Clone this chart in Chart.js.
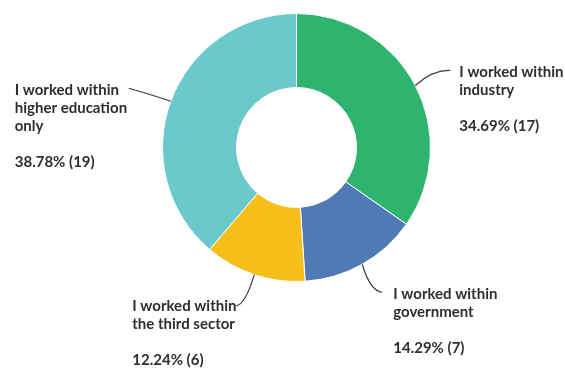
<!DOCTYPE html>
<html>
<head>
<meta charset="utf-8">
<script src="https://cdn.jsdelivr.net/npm/chart.js@4/dist/chart.umd.min.js"></script>
<style>
  html, body { margin: 0; padding: 0; background: #fff; }
  #wrap { width: 565px; height: 369px; }
</style>
</head>
<body>
<div id="wrap"><canvas id="sectorChart" width="565" height="369"></canvas></div>
<script>
// Survey answers, clockwise from the top
const categories = [
    ['I worked within', 'industry'],
    ['I worked within', 'government'],
    ['I worked within', 'the third sector'],
    ['I worked within', 'higher education', 'only']
];
const counts = [17, 7, 6, 19];
const percentLabels = ['34.69%', '14.29%', '12.24%', '38.78%'];
const sliceColors = ['#2eb46e', '#4f7ab5', '#f5be1b', '#6bc8cb'];

// Where each label sits, relative to the point on the rim at the slice middle.
// end = leader line end, ctrl = curve control point, text = first line anchor
const labelLayout = [
    { end: [35, -15], ctrl: [18, -16], text: [44, -13] },
    { end: [20, 28], ctrl: [8, 27], text: [31, 30] },
    { end: [-18, 31], ctrl: [-9, 30], text: [-122, 31] },
    { end: [-42, -13], ctrl: [-24, -8], text: [-156, -11] }
];

const calloutPlugin = {
    id: 'callouts',
    afterDatasetsDraw(chart) {
        const ctx = chart.ctx;
        const arcs = chart.getDatasetMeta(0).data;
        ctx.save();
        arcs.forEach((arc, i) => {
            const p = arc.getProps(['x', 'y', 'startAngle', 'endAngle', 'outerRadius'], true);
            const mid = (p.startAngle + p.endAngle) / 2;
            const sx = p.x + Math.cos(mid) * p.outerRadius;
            const sy = p.y + Math.sin(mid) * p.outerRadius;
            const lay = labelLayout[i];

            ctx.strokeStyle = '#3b3b3b';
            ctx.lineWidth = 1.2;
            ctx.beginPath();
            ctx.moveTo(sx, sy);
            ctx.quadraticCurveTo(sx + lay.ctrl[0], sy + lay.ctrl[1], sx + lay.end[0], sy + lay.end[1]);
            ctx.stroke();

            ctx.fillStyle = '#2e2e2e';
            ctx.font = 'bold 15px Lato, "Open Sans", sans-serif';
            ctx.textAlign = 'left';
            ctx.textBaseline = 'middle';
            const tx = sx + lay.text[0];
            let ty = sy + lay.text[1];
            categories[i].forEach(line => {
                ctx.fillText(line, tx, ty);
                ty += 18;
            });
            ty += 18;
            ctx.fillText(percentLabels[i] + ' (' + counts[i] + ')', tx, ty);
        });
        ctx.restore();
    }
};

const ctx = document.getElementById('sectorChart').getContext('2d');
const sectorChart = new Chart(ctx, {
    type: 'doughnut',
    data: {
        labels: categories.map(c => c.join(' ')),
        datasets: [{
            data: counts,
            backgroundColor: sliceColors,
            borderColor: '#ffffff',
            borderWidth: 1
        }]
    },
    options: {
        responsive: false,
        animation: false,
        cutout: 60,
        layout: {
            padding: { top: 13, bottom: 87, left: 162, right: 134 }
        },
        plugins: {
            legend: { display: false },
            tooltip: { enabled: false }
        }
    },
    plugins: [calloutPlugin]
});
</script>
</body>
</html>
